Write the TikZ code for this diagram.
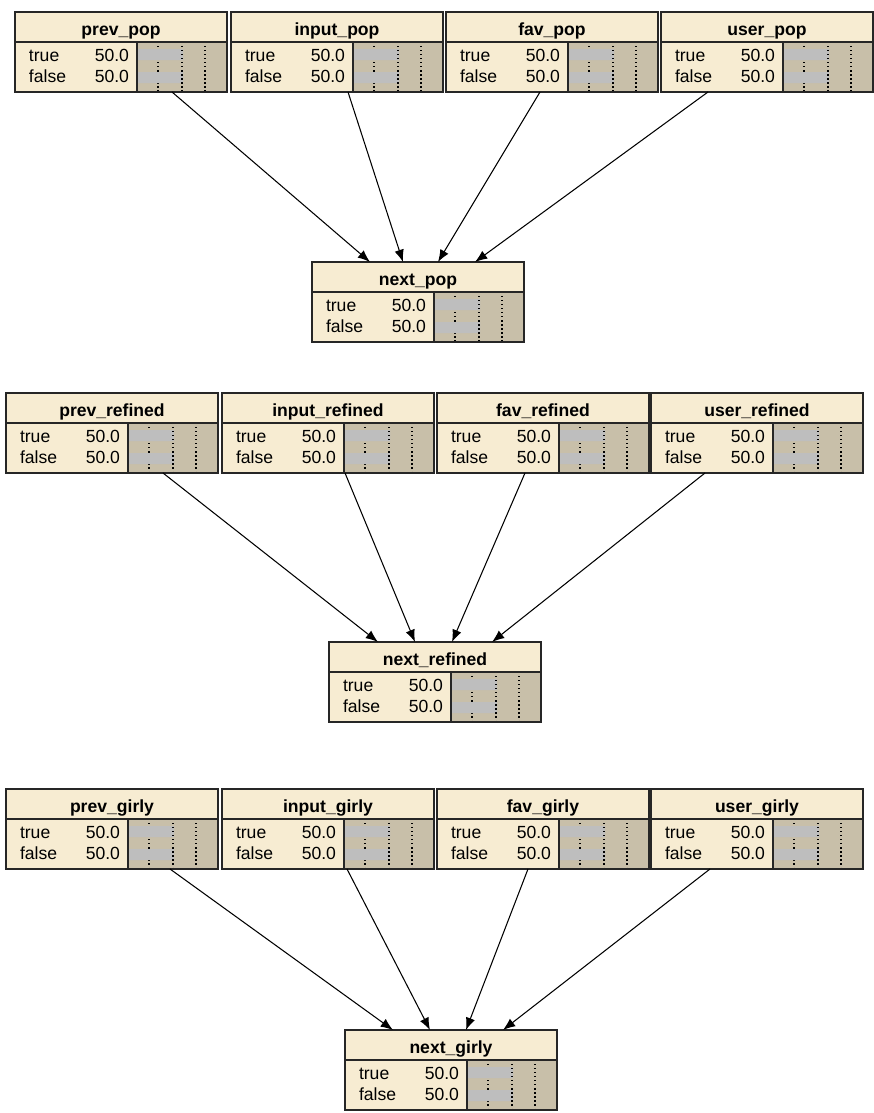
\documentclass[tikz,border=0pt]{standalone}
\usepackage{fontspec}
\setmainfont{Liberation Sans}
\usetikzlibrary{calc,arrows.meta}
\definecolor{cream}{HTML}{F7ECD2}
\definecolor{beliefbg}{HTML}{C8BFA9}
\definecolor{bargray}{HTML}{BEBEBE}

\begin{document}
\begin{tikzpicture}[x=0.02cm,y=-0.02cm, every node/.style={font=\fontsize{10}{12}\selectfont, inner sep=0pt, outer sep=0pt},
    varbox/.style={fill=cream, minimum width=4.24cm, minimum height=1.6cm, anchor=north west},
    boxline/.style={draw=black!85, line width=0.8pt},
    tickline/.style={line width=0.7pt, dash pattern=on 0.7pt off 1.6pt},
    link/.style={line width=0.6pt, -{Latex[length=7pt,width=5.4pt]}}]
    \useasboundingbox (0,0) rectangle (873,1113);
    \foreach \nm/\lbl/\px/\py in {prevpop/prev\_pop/15/12, inputpop/input\_pop/231/12, favpop/fav\_pop/446/12, userpop/user\_pop/661/12, nextpop/next\_pop/312/262,
        prevrefined/prev\_refined/6/393, inputrefined/input\_refined/222/393, favrefined/fav\_refined/437/393, userrefined/user\_refined/651/393, nextrefined/next\_refined/329/642,
        prevgirly/prev\_girly/6/789, inputgirly/input\_girly/222/789, favgirly/fav\_girly/437/789, usergirly/user\_girly/651/789, nextgirly/next\_girly/345/1030}{
        \node[varbox] (\nm) at (\px,\py) {};
        \begin{scope}[shift={(\nm.north west)}]
            \fill[beliefbg] (122,30) rectangle (212,80);
            \draw[tickline] (143,30) -- (143,80);
            \fill[bargray] (122,37) rectangle (168,48) (122,60) rectangle (168,71);
            \draw[tickline] (167,30) -- (167,80) (190,30) -- (190,80);
            \draw[boxline] (0,30) -- (212,30) (122,30) -- (122,80) (0,0) rectangle (212,80);
            \node[anchor=base] at (106,23) {\bfseries\lbl};
            \node[anchor=base west] at (14,49) {true};
            \node[anchor=base west] at (14,70) {false};
            \node[anchor=base east] at (114,49) {50.0};
            \node[anchor=base east] at (114,70) {50.0};
        \end{scope}
    }
    \foreach \src/\a/\dst/\b in {prevpop/157/nextpop/58, inputpop/117/nextpop/91, favpop/94/nextpop/126, userpop/47/nextpop/163,
        prevrefined/157/nextrefined/49, inputrefined/123/nextrefined/86, favrefined/88/nextrefined/123, userrefined/54/nextrefined/163,
        prevgirly/164/nextgirly/48, inputgirly/125/nextgirly/85, favgirly/91/nextgirly/121, usergirly/59/nextgirly/158}
        \draw[link] ($(\src.south west)+(\a,0)$) -- ($(\dst.north west)+(\b,0)$);
\end{tikzpicture}
\end{document}
